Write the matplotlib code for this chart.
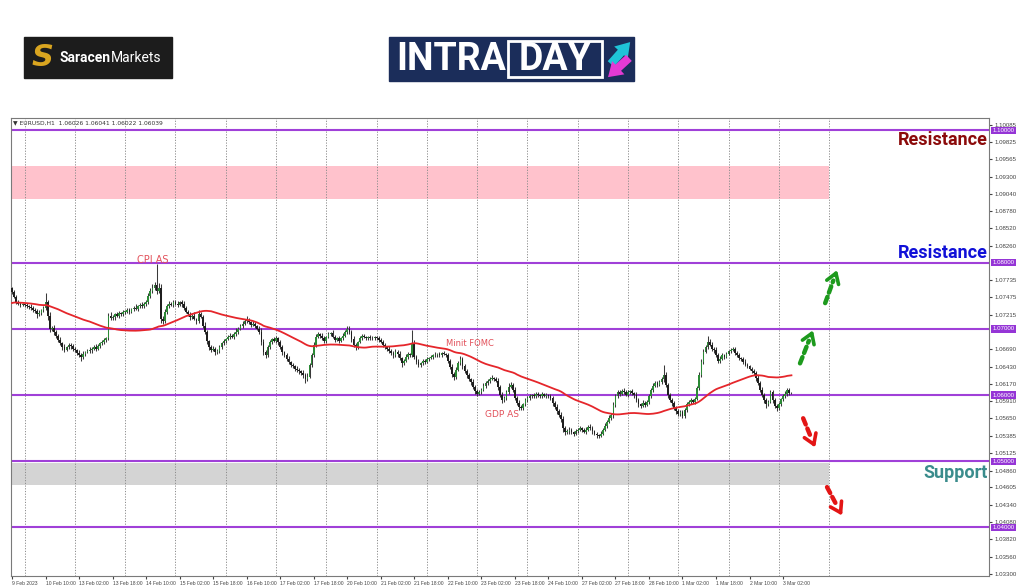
import matplotlib
matplotlib.use("Agg")
import matplotlib.pyplot as plt
import matplotlib.transforms as mtransforms
from matplotlib.patches import Rectangle, FancyArrowPatch
import numpy as np
import pandas as pd

BASE = 1.05     # pips are counted from this price
PIP = 0.0001

# EURUSD H1 closes, pips above 1.0500, one row per trading day
first_open = 262
close_pips = [
    256, 249, 241, 238, 236, 237,  # 9 Feb from 18:00
    236, 234, 233, 231, 229, 227, 222, 224, 228, 232, 240, 220, 200, 202, 196, 190, 184, 178, 172, 168, 172, 176, 174, 170,
    168, 164, 160, 157, 162, 165, 166, 168, 170, 172, 170, 174, 178, 180, 183, 186, 220, 216, 218, 222, 220, 224, 222, 226,
    226, 228, 226, 230, 232, 230, 234, 236, 234, 238, 240, 250, 258, 262, 266, 258, 262, 215, 212, 225, 235, 238, 236, 240,
    238, 236, 240, 237, 232, 226, 222, 218, 220, 215, 212, 222, 218, 205, 195, 182, 172, 168, 170, 165, 166, 172, 178, 182,
    185, 188, 190, 188, 192, 196, 200, 205, 208, 212, 214, 210, 206, 208, 204, 200, 196, 180, 165, 160, 172, 180, 185, 182,
    186, 180, 172, 165, 160, 155, 150, 146, 144, 140, 138, 136, 134, 130, 125, 128, 145, 160, 175, 188, 192, 190, 186, 182,
    188, 192, 194, 188, 184, 186, 182, 186, 190, 196, 200, 195, 185, 175, 172, 180, 186, 190, 188, 186, 188, 187, 186, 188,
    186, 184, 180, 176, 172, 170, 166, 164, 160, 165, 162, 156, 148, 152, 158, 162, 160, 178, 158, 150, 146, 148, 152, 150,
    154, 156, 158, 160, 161, 162, 160, 163, 162, 160, 152, 142, 132, 128, 138, 148, 154, 144, 136, 130, 124, 120, 112, 106,
    102, 104, 108, 114, 118, 122, 125, 126, 124, 122, 112, 100, 92, 95, 105, 112, 116, 108, 96, 88, 82, 80, 86, 92,
    96, 98, 100, 98, 102, 100, 98, 101, 99, 100, 98, 95, 88, 82, 76, 70, 64, 50, 44, 46, 48, 44, 42, 46,
    48, 50, 47, 45, 48, 52, 50, 46, 42, 40, 38, 42, 48, 54, 60, 66, 70, 85, 98, 104, 102, 106, 104, 100,
    104, 106, 103, 100, 92, 86, 84, 88, 85, 90, 98, 108, 114, 118, 116, 120, 124, 130, 115, 100, 92, 88, 80, 76,
    72, 74, 68, 78, 86, 90, 92, 90, 94, 110, 130, 150, 165, 172, 180, 176, 170, 168, 160, 152, 155, 160, 158, 162,
    166, 168, 170, 164, 160, 156, 154, 150, 146, 144, 140, 136, 133, 126, 118, 108, 100, 92, 86, 90, 104, 92, 84, 80,
    86, 94, 98, 102, 108, 102.6, 103.9,  # 3 Mar
]
upper_wick = [
    2, 3, 2, 3, 2, 2,
    2, 3, 2, 4, 3, 2, 3, 5, 2, 3, 14, 4, 6, 3, 4, 2, 3, 4, 3, 5, 2, 3, 2, 3,
    3, 2, 4, 3, 5, 2, 3, 4, 2, 3, 5, 3, 2, 4, 3, 2, 4, 6, 3, 2, 4, 3, 2, 3,
    2, 4, 3, 2, 3, 5, 2, 3, 4, 2, 3, 5, 4, 6, 5, 32, 8, 6, 4, 5, 3, 4, 2, 3,
    3, 4, 2, 3, 5, 2, 3, 4, 3, 5, 2, 6, 4, 3, 5, 4, 2, 3, 4, 2, 3, 4, 2, 3,
    2, 3, 4, 2, 3, 5, 3, 2, 4, 3, 5, 3, 2, 4, 3, 2, 4, 6, 5, 3, 4, 3, 2, 3,
    3, 2, 4, 3, 2, 3, 4, 2, 3, 2, 4, 3, 2, 4, 3, 5, 4, 3, 5, 4, 3, 2, 4, 3,
    2, 3, 2, 4, 3, 2, 3, 2, 4, 3, 5, 4, 3, 5, 3, 2, 3, 2, 3, 2, 2, 3, 2, 2,
    2, 3, 2, 4, 3, 2, 4, 3, 2, 5, 3, 4, 2, 3, 4, 3, 2, 20, 6, 3, 4, 2, 3, 2,
    3, 2, 3, 2, 4, 2, 3, 2, 3, 2, 4, 3, 5, 3, 4, 3, 5, 4, 3, 4, 3, 2, 4, 3,
    3, 4, 3, 4, 3, 2, 3, 4, 2, 3, 4, 3, 5, 4, 3, 6, 4, 3, 4, 3, 4, 3, 2, 3,
    2, 3, 2, 3, 2, 3, 2, 3, 2, 3, 2, 3, 4, 3, 4, 3, 4, 5, 4, 3, 4, 3, 2, 3,
    2, 3, 2, 3, 4, 3, 4, 3, 2, 3, 2, 4, 3, 4, 3, 4, 3, 5, 4, 3, 4, 3, 4, 3,
    3, 2, 3, 2, 4, 3, 2, 4, 3, 2, 4, 3, 4, 3, 4, 3, 4, 15, 5, 4, 3, 4, 3, 4,
    3, 4, 3, 2, 3, 2, 3, 2, 3, 4, 5, 4, 5, 4, 10, 5, 4, 3, 4, 3, 4, 3, 2, 3,
    2, 3, 2, 3, 2, 3, 2, 3, 4, 3, 2, 3, 4, 3, 4, 3, 4, 3, 4, 3, 4, 3, 4, 3,
    3, 2, 3, 4, 3, 2, 0.2,
]
lower_wick = [
    3, 2, 3, 2, 3, 2,
    3, 2, 3, 2, 4, 3, 5, 2, 3, 2, 3, 6, 4, 3, 5, 3, 4, 3, 4, 3, 2, 3, 4, 3,
    3, 4, 3, 5, 2, 3, 2, 3, 4, 2, 3, 2, 3, 2, 3, 2, 3, 2, 3, 4, 2, 3, 2, 3,
    3, 2, 3, 2, 3, 2, 3, 2, 3, 2, 3, 2, 3, 4, 3, 5, 4, 6, 5, 3, 2, 3, 2, 3,
    2, 3, 2, 4, 3, 2, 3, 4, 3, 2, 4, 3, 2, 4, 3, 5, 4, 3, 2, 5, 3, 2, 3, 2,
    3, 2, 3, 2, 3, 2, 3, 2, 3, 2, 3, 2, 3, 2, 3, 2, 3, 4, 5, 4, 3, 2, 3, 2,
    3, 4, 3, 4, 3, 4, 3, 4, 3, 4, 3, 4, 3, 4, 6, 3, 2, 3, 2, 3, 2, 3, 2, 3,
    3, 2, 3, 2, 3, 2, 3, 2, 3, 2, 3, 2, 4, 3, 4, 3, 2, 3, 2, 3, 2, 3, 2, 3,
    2, 3, 2, 3, 2, 3, 2, 3, 4, 3, 4, 3, 6, 3, 2, 3, 2, 3, 4, 3, 4, 3, 2, 3,
    2, 3, 2, 3, 2, 3, 2, 3, 2, 3, 4, 3, 4, 5, 3, 2, 3, 4, 3, 4, 3, 4, 3, 4,
    3, 2, 3, 2, 3, 2, 3, 2, 3, 2, 4, 3, 4, 3, 2, 3, 2, 3, 4, 3, 4, 3, 2, 3,
    2, 3, 2, 3, 2, 3, 2, 3, 2, 3, 2, 3, 4, 3, 4, 3, 4, 5, 4, 3, 4, 3, 4, 3,
    3, 2, 3, 2, 3, 2, 3, 4, 3, 5, 3, 2, 3, 2, 3, 2, 3, 4, 3, 2, 3, 2, 3, 2,
    3, 2, 3, 4, 3, 4, 3, 2, 3, 2, 3, 2, 3, 2, 3, 2, 3, 4, 3, 4, 3, 4, 3, 4,
    3, 4, 3, 2, 3, 2, 3, 2, 3, 2, 3, 2, 3, 2, 3, 2, 3, 4, 3, 4, 3, 2, 3, 2,
    2, 3, 2, 3, 2, 3, 2, 3, 2, 3, 2, 3, 2, 4, 3, 4, 3, 4, 5, 3, 2, 4, 3, 4,
    3, 2, 3, 2, 3, 2, 0.4,
]
# closes before the visible window, only used to warm up the moving average
history_pips = [232, 235, 238, 236, 233, 230, 234, 238, 240, 242, 245, 250]

x_labels = ["9 Feb 2023", "10 Feb 10:00", "13 Feb 02:00", "13 Feb 18:00", "14 Feb 10:00",
            "15 Feb 02:00", "15 Feb 18:00", "16 Feb 10:00", "17 Feb 02:00", "17 Feb 18:00",
            "20 Feb 10:00", "21 Feb 02:00", "21 Feb 18:00", "22 Feb 10:00", "23 Feb 02:00",
            "23 Feb 18:00", "24 Feb 10:00", "27 Feb 02:00", "27 Feb 18:00", "28 Feb 10:00",
            "1 Mar 02:00", "1 Mar 18:00", "2 Mar 10:00", "3 Mar 02:00"]
y_ticks = [1.10085, 1.09825, 1.09565, 1.09300, 1.09040, 1.08780, 1.08520, 1.08260,
           1.07735, 1.07475, 1.07215, 1.06690, 1.06430, 1.06170, 1.05910, 1.05650,
           1.05385, 1.05125, 1.04860, 1.04605, 1.04340, 1.04080, 1.03820, 1.03560, 1.03300]
levels = [1.10, 1.08, 1.07, 1.06, 1.05, 1.04]
supply_zone = (1.0896, 1.0946)
demand_zone = (1.0464, 1.04975)

# ---- data prep ----
c = BASE + np.array(close_pips, dtype=float) * PIP
o = np.r_[BASE + first_open * PIP, c[:-1]]
hi = np.maximum(o, c) + np.array(upper_wick) * PIP
lo = np.minimum(o, c) - np.array(lower_wick) * PIP
n = len(c)
xs = np.arange(n)
full = pd.Series(np.r_[BASE + np.array(history_pips) * PIP, c])
ma = full.rolling(50, min_periods=1).mean().iloc[len(history_pips):].to_numpy()

plt.rcParams['font.family'] = ['DejaVu Sans']
fig = plt.figure(figsize=(10.24, 5.87), dpi=100)
W, H = 1024, 587
ax = fig.add_axes([11 / W, 1 - 576 / H, 978 / W, 458 / H])
ax.set_xlim(-0.5, 466.3)
ax.set_ylim(1.03267, 1.10187)

# zones and grid
x0 = ax.get_xlim()[0]
ax.add_patch(Rectangle((x0, supply_zone[0]), 390 - x0, supply_zone[1] - supply_zone[0],
                       color='#ffc2cc', lw=0, zorder=0.5))
ax.add_patch(Rectangle((x0, demand_zone[0]), 390 - x0, demand_zone[1] - demand_zone[0],
                       color='#d4d4d4', lw=0, zorder=0.5))
for d in range(6, 391, 24):
    ax.axvline(d, color='#8c8c8c', lw=0.7, ls=(0, (1.2, 1.6)), zorder=1)
for lv in levels:
    ax.axhline(lv, color='#a040d8', lw=1.5, zorder=2)

# candles
up = c >= o
ax.vlines(xs, lo, hi, color='#3a3a3a', lw=0.75, zorder=2.8)
body = np.maximum(np.abs(c - o), 0.4 * PIP)
ax.bar(xs, body, bottom=np.minimum(o, c), width=0.8,
       color=np.where(up, '#2c8a36', '#1e1e1e'), lw=0, zorder=3)
ax.plot(xs, ma, color='#e5262b', lw=1.3, zorder=4)

# axes cosmetics
for s in ax.spines.values():
    s.set_color('#7a7a7a')
    s.set_linewidth(0.8)
ax.set_xticks(range(0, 16 * len(x_labels), 16))
ax.set_xticklabels(x_labels, family='Liberation Sans')
for t in ax.get_xticklabels():
    t.set_horizontalalignment('left')
ax.tick_params(axis='x', length=2, labelsize=3.6, pad=1.5, colors='#444444')
ax.yaxis.tick_right()
ax.set_yticks(y_ticks)
ax.set_yticklabels([f"{v:.5f}" for v in y_ticks], family='Liberation Sans')
ax.tick_params(axis='y', length=2, labelsize=4.4, pad=2, colors='#444444')

blend = mtransforms.blended_transform_factory(ax.transAxes, ax.transData)
for lv in levels:
    ax.text(1.0035, lv, f"{lv:.5f}", transform=blend, fontsize=4.4, color='white',
            va='center', ha='left', zorder=10, clip_on=False, family='Liberation Sans',
            bbox=dict(boxstyle='square,pad=0.2', fc='#9535d6', ec='none'))

ax.text(0.002, 0.989, f"\u25BC EURUSD,H1  {o[-1]:.5f} {hi[-1]:.5f} {lo[-1]:.5f} {c[-1]:.5f}",
        transform=ax.transAxes, fontsize=4.3, color='#333333', va='center', ha='left')

# event notes
note_c = '#e2505a'
ax.text(67, 1.0804, "CPI AS", color=note_c, fontsize=7, ha='center', va='center')
ax.text(218.6, 1.0678, "Minit FOMC", color=note_c, fontsize=6, ha='center', va='center')
ax.text(234, 1.0571, "GDP AS", color=note_c, fontsize=6.5, ha='center', va='center')

ax.text(0.999, 1.0985, "Resistance", transform=blend, color='#8b0a0a', fontsize=13,
        family='Roboto', weight='bold', ha='right', va='center')
ax.text(0.999, 1.0814, "Resistance", transform=blend, color='#1010d8', fontsize=13,
        family='Roboto', weight='bold', ha='right', va='center')
ax.text(0.999, 1.0483, "Support", transform=blend, color='#3a8c8c', fontsize=13,
        family='Roboto', weight='bold', ha='right', va='center')


def dashed_arrow(tail, tip, color):
    hx = tip[0] - 0.28 * (tip[0] - tail[0])
    hy = tip[1] - 0.28 * (tip[1] - tail[1])
    ax.annotate("", xy=(hx, hy), xytext=tail, annotation_clip=False,
                arrowprops=dict(arrowstyle='-', color=color, lw=3.2,
                                linestyle=(0, (1.5, 1.0)), shrinkA=0, shrinkB=1))
    ax.annotate("", xy=tip, xytext=(hx, hy), annotation_clip=False,
                arrowprops=dict(arrowstyle='->,head_length=0.7,head_width=0.45',
                                color=color, lw=2.6, shrinkA=3, shrinkB=0))


green, red = '#1d9a1d', '#e31515'
dashed_arrow((376.1, 1.0648), (382.3, 1.0698), green)
dashed_arrow((388.1, 1.0739), (393.8, 1.0789), green)
dashed_arrow((377.6, 1.0565), (383.3, 1.0521), red)
dashed_arrow((389.0, 1.0461), (396.2, 1.0418), red)

# ---- logos on top ----
lax = fig.add_axes([0, 0, 1, 1], zorder=-1)
lax.set_xlim(0, W)
lax.set_ylim(H, 0)
lax.axis('off')
lax.add_patch(Rectangle((24, 37), 148, 41, color='#1c1c1c'))
lax.text(43, 58, "S", color='#d9a520', fontsize=22, weight='bold', style='italic',
         ha='center', va='center', family='DejaVu Sans')
lax.text(59, 58, "Saracen", color='white', fontsize=10, weight='bold', family='Roboto',
         ha='left', va='center')
lax.text(111, 58, "Markets", color='white', fontsize=10, family='Roboto',
         ha='left', va='center')

lax.add_patch(Rectangle((389, 37), 245, 44, color='#1b2d5a'))
lax.text(396, 60, "INTRA", color='white', fontsize=27, weight='bold', family='Roboto',
         ha='left', va='center')
lax.add_patch(Rectangle((508, 41), 94, 36, fill=False, ec='white', lw=2))
lax.text(555, 60, "DAY", color='white', fontsize=27, weight='bold', family='Roboto',
         ha='center', va='center')
lax.add_patch(FancyArrowPatch((609, 66), (632, 40), arrowstyle='simple,head_width=1.3,head_length=1.0,tail_width=0.6',
                              mutation_scale=10, color='#1fc3d8', lw=0))
lax.add_patch(FancyArrowPatch((631, 56), (606, 79), arrowstyle='simple,head_width=1.3,head_length=1.0,tail_width=0.6',
                              mutation_scale=10, color='#e43ad4', lw=0))

fig.savefig("out.png", dpi=100)
